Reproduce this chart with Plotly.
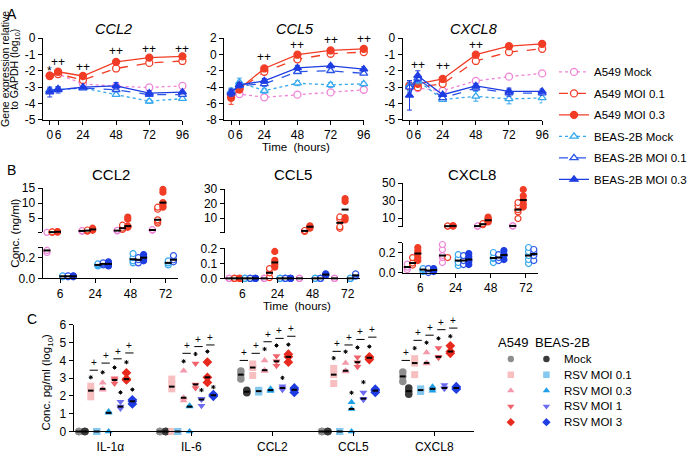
import numpy as np
import plotly.graph_objects as go

W, H = 692, 454
FONT = "Liberation Sans, Arial, Helvetica, sans-serif"


def fx(p):
    return p / W


def fy(p):
    return 1 - p / H


# ---------------- Panel A : gene expression (log10, relative to GAPDH) ----------------
hours = [0, 6, 24, 48, 72, 96]
hour_labels = ["0", "6", "24", "48", "72", "96"]
series_names = ["A549 Mock", "A549 MOI 0.1", "A549 MOI 0.3",
                "BEAS-2B Mock", "BEAS-2B MOI 0.1", "BEAS-2B MOI 0.3"]
gene_titles = ["CCL2", "CCL5", "CXCL8"]

ccl2_a549_mock = [-2.30, -2.20, -2.80, -2.95, -3.02, -2.92]
ccl2_a549_moi01 = [-2.30, -2.20, -2.56, -1.86, -1.52, -1.40]
ccl2_a549_moi03 = [-2.32, -2.06, -2.32, -1.46, -1.20, -1.12]
ccl2_beas_mock = [-3.20, -3.15, -3.05, -3.46, -3.86, -3.70]
ccl2_beas_moi01 = [-3.20, -3.10, -3.06, -3.16, -3.46, -3.46]
ccl2_beas_moi03 = [-3.30, -3.16, -3.00, -2.92, -3.36, -3.30]
ccl2_err = [[0.05, 0.05, 0.05, 0.05, 0.08, 0.05],
            [0.08, 0.05, 0.08, 0.10, 0.08, 0.05],
            [0.10, 0.10, 0.08, 0.08, 0.08, 0.08],
            [0.10, 0.10, 0.05, 0.10, 0.12, 0.10],
            [0.10, 0.10, 0.05, 0.10, 0.10, 0.10],
            [0.30, 0.20, 0.05, 0.20, 0.15, 0.10]]

ccl5_a549_mock = [-4.80, -4.84, -5.24, -4.92, -4.64, -4.32]
ccl5_a549_moi01 = [-5.00, -4.30, -2.12, -0.60, 0.08, 0.28]
ccl5_a549_moi03 = [-5.30, -4.20, -1.72, -0.04, 0.48, 0.68]
ccl5_beas_mock = [-4.50, -3.40, -4.44, -3.52, -3.72, -3.60]
ccl5_beas_moi01 = [-4.60, -3.80, -3.60, -2.12, -2.00, -2.32]
ccl5_beas_moi03 = [-4.72, -3.72, -3.24, -1.64, -1.40, -1.80]
ccl5_err = [[0.30, 0.20, 0.20, 0.15, 0.15, 0.15],
            [0.40, 0.30, 0.15, 0.10, 0.10, 0.10],
            [0.80, 0.30, 0.15, 0.10, 0.10, 0.10],
            [0.40, 0.50, 0.30, 0.30, 0.30, 0.30],
            [0.40, 0.30, 0.30, 0.20, 0.20, 0.20],
            [0.40, 0.30, 0.30, 0.30, 0.20, 0.30]]

cxcl8_a549_mock = [-3.00, -3.06, -3.22, -2.62, -2.36, -2.16]
cxcl8_a549_moi01 = [-2.96, -3.00, -2.80, -1.40, -0.86, -0.66]
cxcl8_a549_moi03 = [-2.90, -2.80, -2.50, -1.02, -0.50, -0.36]
cxcl8_beas_mock = [-2.90, -2.60, -3.76, -3.56, -3.72, -3.66]
cxcl8_beas_moi01 = [-3.00, -2.46, -3.66, -3.06, -3.36, -3.36]
cxcl8_beas_moi03 = [-3.50, -2.30, -3.46, -2.92, -3.26, -3.26]
cxcl8_err = [[0.10, 0.10, 0.10, 0.10, 0.10, 0.10],
             [0.10, 0.10, 0.10, 0.10, 0.10, 0.05],
             [0.10, 0.10, 0.10, 0.08, 0.05, 0.05],
             [0.30, 0.20, 0.10, 0.30, 0.30, 0.30],
             [0.30, 0.20, 0.10, 0.15, 0.20, 0.15],
             [0.90, 0.30, 0.10, 0.15, 0.20, 0.15]]

# significance marks in panel A (hour, y-value, text)
ccl2_sig_h = [0, 6, 24, 48, 72, 96]
ccl2_sig_y = [-2.02, -1.46, -1.76, -0.77, -0.67, -0.67]
ccl2_sig_t = ["*", "++", "++", "++", "++", "++"]
ccl5_sig_h = [24, 48, 72, 96]
ccl5_sig_y = [-0.33, 1.17, 1.72, 1.84]
cxcl8_sig_h = [6, 24, 48, 72, 96]
cxcl8_sig_y = [-1.66, -1.72, -0.40, 0.12, 0.28]

# ---------------- Panel B : secreted protein (ng/ml), replicates per time point ----------------
b_times = ["6", "24", "48", "72"]
b_ccl2_a549_mock = [[0.25, 0.27, 0.32], [0.7, 0.8, 0.9], [0.8, 0.9, 1.0], [1.0, 1.1, 1.2]]
b_ccl2_a549_moi01 = [[0.35, 0.4, 0.45], [0.7, 0.9, 1.1], [1.3, 1.7, 2.7], [3.4, 4.0, 4.5, 8.0, 8.7]]
b_ccl2_a549_moi03 = [[0.4, 0.5, 0.6], [1.0, 1.3, 1.7], [2.0, 2.2, 2.4, 4.7, 5.4], [8.7, 9.2, 10.2, 13.7, 14.6]]
b_ccl2_beas_mock = [[0.015, 0.02, 0.025], [0.12, 0.13, 0.14], [0.15, 0.17, 0.2, 0.24], [0.13, 0.15, 0.17]]
b_ccl2_beas_moi01 = [[0.015, 0.02, 0.025], [0.13, 0.14, 0.15], [0.15, 0.18, 0.2], [0.16, 0.18, 0.22]]
b_ccl2_beas_moi03 = [[0.015, 0.02, 0.025], [0.12, 0.14, 0.16], [0.17, 0.19, 0.21, 0.23], [0.17, 0.2, 0.21, 0.24]]

b_ccl5_a549_mock = [[0, 0, 0], [0, 0, 0], [0, 0, 0], [0, 0, 0]]
b_ccl5_a549_moi01 = [[0, 0, 0], [0.005, 0.037, 0.065], [1.0, 1.3, 1.6], [3.1, 4.2, 9.5, 10.9]]
b_ccl5_a549_moi03 = [[0, 0, 0], [0.075, 0.092, 0.12, 0.179], [3.2, 4.2, 4.8], [8.9, 10.5, 21.5, 23.5]]
b_ccl5_beas_mock = [[0, 0, 0], [0, 0, 0], [0, 0, 0], [0, 0, 0]]
b_ccl5_beas_moi01 = [[0, 0, 0], [0, 0, 0], [0, 0, 0], [0.015, 0.02, 0.03]]
b_ccl5_beas_moi03 = [[0, 0, 0], [0, 0, 0], [0.02, 0.025, 0.03], [0.039, 0.05, 0.062, 0.092]]

b_cxcl8_a549_mock = [[0.03, 0.055, 0.085], [0.1, 0.15, 0.17, 0.23, 0.28], [0.7, 0.8, 0.9], [0.9, 1.0, 1.1]]
b_cxcl8_a549_moi01 = [[0.075, 0.095, 0.15], [0.15, 0.7, 0.9], [2.5, 3.0, 3.5], [9.4, 17.0, 19.6, 24.0, 27.7]]
b_cxcl8_a549_moi03 = [[0.12, 0.15, 0.19, 0.22, 0.25], [0.8, 1.0, 1.2], [5.5, 6.5, 7.5, 9.5, 11.0], [22.6, 26.2, 30.6, 35.5, 42.6]]
b_cxcl8_beas_mock = [[0.01, 0.03, 0.04], [0.07, 0.1, 0.14, 0.18], [0.1, 0.14, 0.15, 0.2], [0.09, 0.13, 0.17, 0.21, 0.25]]
b_cxcl8_beas_moi01 = [[0.0, 0.02, 0.04], [0.08, 0.12, 0.17], [0.12, 0.15, 0.18], [0.12, 0.17, 0.2, 0.23]]
b_cxcl8_beas_moi03 = [[0.01, 0.02, 0.03, 0.04], [0.08, 0.11, 0.13, 0.16, 0.19], [0.13, 0.17, 0.18, 0.22], [0.12, 0.17, 0.22, 0.24, 0.26]]

# ---------------- Panel C : log10 pg/ml, 10 columns per cytokine ----------------
c_cats = ["IL-1α", "IL-6", "CCL2", "CCL5", "CXCL8"]
c_rows = ["Mock", "RSV MOI 0.1", "RSV MOI 0.3", "RSV MOI 1", "RSV MOI 3"]
c_a549_mock = [[0, 0, 0], [0, 0, 0], [2.95, 3.2, 3.4], [0, 0, 0], [2.82, 3.1, 3.35]]
c_beas_mock = [[0, 0, 0], [0, 0, 0], [2.18, 2.24, 2.32], [0, 0, 0], [2.1, 2.27, 2.45]]
c_a549_moi01 = [[1.95, 2.3, 2.55], [0, 2.4, 2.65, 2.95], [3.15, 3.6, 3.8], [2.7, 3.2, 3.55], [3.2, 3.85, 4.1]]
c_beas_moi01 = [[0, 0, 0], [0, 0, 0], [2.22, 2.27, 2.32], [0, 0, 0], [2.25, 2.33, 2.4]]
c_a549_moi03 = [[2.35, 2.4, 2.75], [1.75, 1.9, 3.42], [3.4, 3.45, 4.0], [3.38, 3.42, 3.86], [3.82, 3.86, 4.45]]
c_beas_moi03 = [[0, 1.05, 1.12], [0, 1.4, 1.45], [2.28, 2.33, 2.4], [0, 1.27, 1.64], [2.3, 2.4, 2.52]]
c_a549_moi1 = [[2.7, 2.9, 3.0], [2.45, 2.65, 3.82], [3.7, 3.95, 4.25], [3.64, 3.9, 4.18], [4.15, 4.2, 4.7]]
c_beas_moi1 = [[1.3, 1.4, 1.67], [1.45, 1.8, 1.85], [2.35, 2.45, 2.55], [1.78, 1.85, 2.2], [2.4, 2.45, 2.62]]
c_a549_moi3 = [[2.9, 2.95, 3.3], [2.76, 3.05, 3.91], [3.9, 4.2, 4.35], [4.05, 4.15, 4.2], [4.4, 4.5, 4.82]]
c_beas_moi3 = [[1.55, 1.7, 1.78], [1.98, 2.04, 2.08], [2.2, 2.35, 2.45], [2.2, 2.3, 2.38], [2.38, 2.45, 2.52]]

# "*" marks: category, column, value
star_cat = [0, 0, 0, 0, 0, 0, 1, 1, 1, 1, 1, 2, 2, 2, 2, 3, 3, 3, 3, 3, 3, 4, 4, 4, 4]
star_col = [2, 4, 6, 8, 7, 9, 4, 6, 8, 7, 9, 4, 6, 8, 7, 2, 4, 5, 6, 7, 8, 2, 4, 6, 8]
star_val = [3.05, 3.33, 3.6, 3.9, 2.2, 2.36, 3.95, 4.36, 4.5, 2.33, 2.5, 4.64, 4.84, 4.89, 3.02,
            4.13, 4.49, 2.18, 4.73, 2.78, 4.78, 4.69, 5.0, 5.24, 5.36]
# "+" marks (A549 vs BEAS-2B): category, treatment index, bar value
pair_cat = [0, 0, 0, 0, 1, 1, 1, 2, 2, 2, 2, 2, 3, 3, 3, 3, 4, 4, 4, 4, 4]
pair_idx = [1, 2, 3, 4, 2, 3, 4, 0, 1, 2, 3, 4, 1, 2, 3, 4, 0, 1, 2, 3, 4]
pair_val = [3.45, 3.85, 4.09, 4.42, 4.4, 4.78, 4.87, 4.0, 4.4, 5.05, 5.24, 5.36,
            4.51, 4.87, 5.18, 5.31, 4.0, 5.13, 5.42, 5.73, 5.82]

# ---------------- styles ----------------
PINK, RED, LBLUE, BLUE, DBLUE = "#ee84d6", "#f23d26", "#36a8ee", "#2b55e8", "#1e3de2"
a_colors = [PINK, RED, RED, LBLUE, BLUE, DBLUE]
a_dash = ["dot", "dash", "solid", "dot", "dash", "solid"]
a_symbol = ["circle", "circle", "circle", "triangle-up", "triangle-up", "triangle-up"]
a_fill = ["white", "white", RED, "white", "white", DBLUE]

c_colors = ["#8e8e8e", "#3a3a3a", "#f7bfc0", "#84c7ef", "#f29aab", "#1f9fe8",
            "#f0636d", "#6d6cf0", "#e8291d", "#1f3de2"]
c_symbols = ["circle", "circle", "square", "square", "triangle-up", "triangle-up",
             "triangle-down", "triangle-down", "diamond", "diamond"]
c_sizes = [7.5, 7.5, 7, 7, 7, 7, 7, 7, 7.5, 7.5]

fig = go.Figure()
layout = {}
annotations = []


def axref(i):
    return ("x" if i == 1 else f"x{i}"), ("y" if i == 1 else f"y{i}")


def axname(i):
    return ("xaxis" if i == 1 else f"xaxis{i}"), ("yaxis" if i == 1 else f"yaxis{i}")


def axstyle(**kw):
    d = dict(showline=True, linecolor="black", linewidth=1, ticks="outside", ticklen=4,
             tickwidth=1, tickcolor="black", showgrid=False, zeroline=False,
             tickfont=dict(family=FONT, size=12, color="black"), fixedrange=True, tickangle=0)
    d.update(kw)
    return d


def note(text, x, y, xref="paper", yref="paper", size=12, angle=0, xanchor="center", xshift=0):
    annotations.append(dict(text=text, x=x, y=y, xref=xref, yref=yref, showarrow=False,
                            xanchor=xanchor, yanchor="middle", textangle=angle, xshift=xshift,
                            font=dict(family=FONT, size=size, color="black")))


# ---------- Panel A axes & traces ----------
a_dx = [(43.3, 184.3), (226.5, 367.5), (406.7, 547.7)]
a_yr = [(-5, 0), (-8, 2), (-5, 0)]
a_yt = [list(range(-5, 1)), list(range(-8, 3, 2)), list(range(-5, 1))]
a_sets = [
    ([ccl2_a549_mock, ccl2_a549_moi01, ccl2_a549_moi03, ccl2_beas_mock, ccl2_beas_moi01, ccl2_beas_moi03], ccl2_err),
    ([ccl5_a549_mock, ccl5_a549_moi01, ccl5_a549_moi03, ccl5_beas_mock, ccl5_beas_moi01, ccl5_beas_moi03], ccl5_err),
    ([cxcl8_a549_mock, cxcl8_a549_moi01, cxcl8_a549_moi03, cxcl8_beas_mock, cxcl8_beas_moi01, cxcl8_beas_moi03], cxcl8_err),
]
for p in range(3):
    i = p + 1
    xr, yr = axref(i)
    xn, yn = axname(i)
    layout[xn] = axstyle(domain=[fx(a_dx[p][0]), fx(a_dx[p][1])], range=[-5, 96], anchor=yr,
                         tickmode="array", tickvals=hours, ticktext=hour_labels)
    layout[yn] = axstyle(domain=[fy(116.5), fy(32)], range=list(a_yr[p]), anchor=xr,
                         tickmode="array", tickvals=a_yt[p], ticktext=[str(v) for v in a_yt[p]])
    vals, errs = a_sets[p]
    for s in range(6):
        fig.add_trace(go.Scatter(
            x=hours, y=vals[s], mode="lines+markers", name=series_names[s],
            legendgroup=series_names[s], showlegend=(p == 0),
            line=dict(color=a_colors[s], width=1.3, dash=a_dash[s]),
            marker=dict(symbol=a_symbol[s], size=7, color=a_fill[s],
                        line=dict(color=a_colors[s], width=1.3)),
            error_y=dict(type="data", array=errs[s], visible=True, color=a_colors[s],
                         thickness=1, width=2.5),
            xaxis=xr, yaxis=yr, cliponaxis=False, hoverinfo="skip"))
    note(f"<i>{gene_titles[p]}</i>", fx((a_dx[p][0] + a_dx[p][1]) / 2 + 1), fy(22.5), size=14.5)

for (hs, ys, ts, i) in [(ccl2_sig_h, ccl2_sig_y, ccl2_sig_t, 1),
                        (ccl5_sig_h, ccl5_sig_y, ["++"] * len(ccl5_sig_h), 2),
                        (cxcl8_sig_h, cxcl8_sig_y, ["++"] * len(cxcl8_sig_h), 3)]:
    xr, yr = axref(i)
    for h, v, t in zip(hs, ys, ts):
        note(t, h, v, xref=xr, yref=yr, size=12)

# ---------- Panel B axes & traces ----------
b_dx = [(43, 179.7), (227, 363.7), (407, 543.7)]
b_uy = [(187, 232.6), (188, 232.7), (181.7, 226.5)]
b_ly = [(248, 280), (249, 280), (243, 274)]
b_urange = [(0.3, 15), (0.2, 30), (0.3, 50)]
b_lrange = [(0, 0.3), (0, 0.2), (0, 0.3)]
b_uticks = [[0.3, 5, 10, 15], [0.2, 10, 20, 30], [0.3, 10, 30, 50]]
b_uticktext = [[" ", "5", "10", "15"], [" ", "10", "20", "30"], [" ", "10", "30", "50"]]
b_lticks = [[0, 0.2, 0.3], [0, 0.1, 0.2], [0, 0.2, 0.3]]
b_lticktext = [["0.0", "0.2", " "], ["0.0", "0.1", "0.2"], ["0.0", "0.2", " "]]
b_sets = [
    [b_ccl2_a549_mock, b_ccl2_a549_moi01, b_ccl2_a549_moi03, b_ccl2_beas_mock, b_ccl2_beas_moi01, b_ccl2_beas_moi03],
    [b_ccl5_a549_mock, b_ccl5_a549_moi01, b_ccl5_a549_moi03, b_ccl5_beas_mock, b_ccl5_beas_moi01, b_ccl5_beas_moi03],
    [b_cxcl8_a549_mock, b_cxcl8_a549_moi01, b_cxcl8_a549_moi03, b_cxcl8_beas_mock, b_cxcl8_beas_moi01, b_cxcl8_beas_moi03],
]
b_off = 0.15
for c in range(3):
    iu, il = 4 + 2 * c, 5 + 2 * c
    xu, yu = axref(iu)
    xl, yl = axref(il)
    xnu, ynu = axname(iu)
    xnl, ynl = axname(il)
    dom = [fx(b_dx[c][0]), fx(b_dx[c][1])]
    layout[xnu] = dict(domain=dom, range=[-0.5, 3.35], anchor=yu, visible=False, fixedrange=True)
    layout[ynu] = axstyle(domain=[fy(b_uy[c][1]), fy(b_uy[c][0])], range=list(b_urange[c]), anchor=xu,
                          tickmode="array", tickvals=b_uticks[c], ticktext=b_uticktext[c])
    layout[xnl] = axstyle(domain=dom, range=[-0.5, 3.35], anchor=yl, tickmode="array",
                          tickvals=list(range(4)), ticktext=b_times)
    layout[ynl] = axstyle(domain=[fy(b_ly[c][1]), fy(b_ly[c][0])], range=list(b_lrange[c]), anchor=xl,
                          tickmode="array", tickvals=b_lticks[c], ticktext=b_lticktext[c])
    brk = b_lrange[c][1]
    med_u, med_l = ([], []), ([], [])
    for k in range(6):
        reps = b_sets[c][k]
        xs = [t + (k - 2.5) * b_off for t in range(4) for v in reps[t]]
        ys = [v for t in range(4) for v in reps[t]]
        up = [(x, y) for x, y in zip(xs, ys) if y >= brk]
        lo = [(x, y) for x, y in zip(xs, ys) if y <= brk]
        for pts, xr_, yr_ in [(up, xu, yu), (lo, xl, yl)]:
            if not pts:
                continue
            fig.add_trace(go.Scatter(
                x=[q[0] for q in pts], y=[q[1] for q in pts], mode="markers", showlegend=False,
                marker=dict(symbol="circle", size=6, color=a_fill[k], line=dict(color=a_colors[k], width=1.2)),
                xaxis=xr_, yaxis=yr_, cliponaxis=False, hoverinfo="skip"))
        for t in range(4):
            m = float(np.median(reps[t]))
            tgt = med_u if m >= brk else med_l
            tgt[0].append(t + (k - 2.5) * b_off)
            tgt[1].append(m)
    for (mx, my), xr_, yr_ in [(med_u, xu, yu), (med_l, xl, yl)]:
        fig.add_trace(go.Scatter(
            x=mx, y=my, mode="markers", showlegend=False,
            marker=dict(symbol="line-ew", size=5, color="black", line=dict(color="black", width=2)),
            xaxis=xr_, yaxis=yr_, cliponaxis=False, hoverinfo="skip"))
    note(gene_titles[c], fx((b_dx[c][0] + b_dx[c][1]) / 2 + 1), fy(173), size=15)

# ---------- Panel C axes & traces ----------
xr, yr = axref(10)
xn, yn = axname(10)
layout[xn] = axstyle(domain=[fx(74.3), fx(479.3)], range=[-0.455, 4.496], anchor=yr,
                     tickmode="array", tickvals=list(range(5)), ticktext=c_cats)
layout[yn] = axstyle(domain=[fy(438), fy(328)], range=[0, 6], anchor=xr,
                     tickmode="array", tickvals=list(range(7)), ticktext=[str(v) for v in range(7)])
c_sets = [c_a549_mock, c_beas_mock, c_a549_moi01, c_beas_moi01, c_a549_moi03,
          c_beas_moi03, c_a549_moi1, c_beas_moi1, c_a549_moi3, c_beas_moi3]
cw = 6 / 81.8
mx, my = [], []
for j, sets in enumerate(c_sets):
    xs = [i + (j - 5.3) * cw for i in range(5) for v in sets[i]]
    ys = [v for i in range(5) for v in sets[i]]
    fig.add_trace(go.Scatter(x=xs, y=ys, mode="markers", showlegend=False,
                             marker=dict(symbol=c_symbols[j], size=c_sizes[j], color=c_colors[j],
                                         line=dict(width=0)),
                             xaxis=xr, yaxis=yr, cliponaxis=False, hoverinfo="skip"))
    for i in range(5):
        mx.append(i + (j - 5.3) * cw)
        my.append(float(np.median(sets[i])))
fig.add_trace(go.Scatter(x=mx, y=my, mode="markers", showlegend=False,
                         marker=dict(symbol="line-ew", size=4, color="black", line=dict(color="black", width=2)),
                         xaxis=xr, yaxis=yr, cliponaxis=False, hoverinfo="skip"))
fig.add_trace(go.Scatter(x=[c + (j - 5.3) * cw for c, j in zip(star_cat, star_col)], y=star_val,
                         mode="markers", showlegend=False,
                         marker=dict(symbol="asterisk-open", size=3.5, color="black", line=dict(color="black", width=1)),
                         xaxis=xr, yaxis=yr, cliponaxis=False, hoverinfo="skip"))
lx, ly = [], []
for c, k, v in zip(pair_cat, pair_idx, pair_val):
    cen = c + (2 * k + 0.5 - 5.3) * cw
    lx += [cen - 0.7 * cw, cen + 0.7 * cw, None]
    ly += [v, v, None]
    annotations.append(dict(text="+", x=cen, y=v, xref=xr, yref=yr, showarrow=False,
                            xanchor="center", yanchor="bottom", yshift=0,
                            font=dict(family=FONT, size=10, color="black")))
fig.add_trace(go.Scatter(x=lx, y=ly, mode="lines", showlegend=False, line=dict(color="black", width=1),
                         xaxis=xr, yaxis=yr, cliponaxis=False, hoverinfo="skip"))

# Panel C legend (two symbol columns: A549, BEAS-2B)
xr, yr = axref(11)
xn, yn = axname(11)
layout[xn] = dict(domain=[fx(498), fx(570)], range=[-0.5, 1.5], anchor=yr, visible=False, fixedrange=True)
layout[yn] = dict(domain=[fy(436.5), fy(355)], range=[4.5, -0.5], anchor=xr, visible=False, fixedrange=True)
for j in range(10):
    fig.add_trace(go.Scatter(x=[j % 2], y=[j // 2], mode="markers", showlegend=False,
                             marker=dict(symbol=c_symbols[j], size=6.5, color=c_colors[j], line=dict(width=0)),
                             xaxis=xr, yaxis=yr, cliponaxis=False, hoverinfo="skip"))
for r, name in enumerate(c_rows):
    note(name, 1, r, xref=xr, yref=yr, size=11.5, xanchor="left", xshift=16)
note("A549", fx(518), fy(346), size=13)
note("BEAS-2B", fx(568), fy(346), size=13)

# ---------- general text ----------
note("A", fx(12), fy(7), size=14)
note("B", fx(12), fy(168), size=14)
note("C", fx(32), fy(322), size=14)
note("Gene expression relative", fx(5), fy(64), size=10.5, angle=-90)
note("to GAPDH (log<sub>10</sub>)", fx(15), fy(64), size=10.5, angle=-90)
note("Time  (hours)", fx(299), fy(144), size=11.5)
note("Conc. (ng/ml)", fx(15), fy(233), size=11.5, angle=-90)
note("Time  (hours)", fx(300), fy(308.5), size=11.5)
note("Conc. pg/ml (log<sub>10</sub>)", fx(48), fy(387), size=11.5, angle=-90)

layout.update(dict(
    width=W, height=H, margin=dict(l=0, r=0, t=0, b=0, pad=0),
    paper_bgcolor="white", plot_bgcolor="white",
    font=dict(family=FONT, size=12, color="black"),
    showlegend=True,
    legend=dict(x=fx(560), y=fy(52), xanchor="left", yanchor="top", traceorder="grouped",
                tracegroupgap=2.5, bgcolor="rgba(0,0,0,0)", itemwidth=30,
                font=dict(family=FONT, size=11.5, color="black")),
    annotations=annotations,
))
fig.update_layout(**layout)
fig.write_html("out.html", config={"displayModeBar": False},
               post_script="document.body.style.margin='0px';document.body.style.padding='0px';")
